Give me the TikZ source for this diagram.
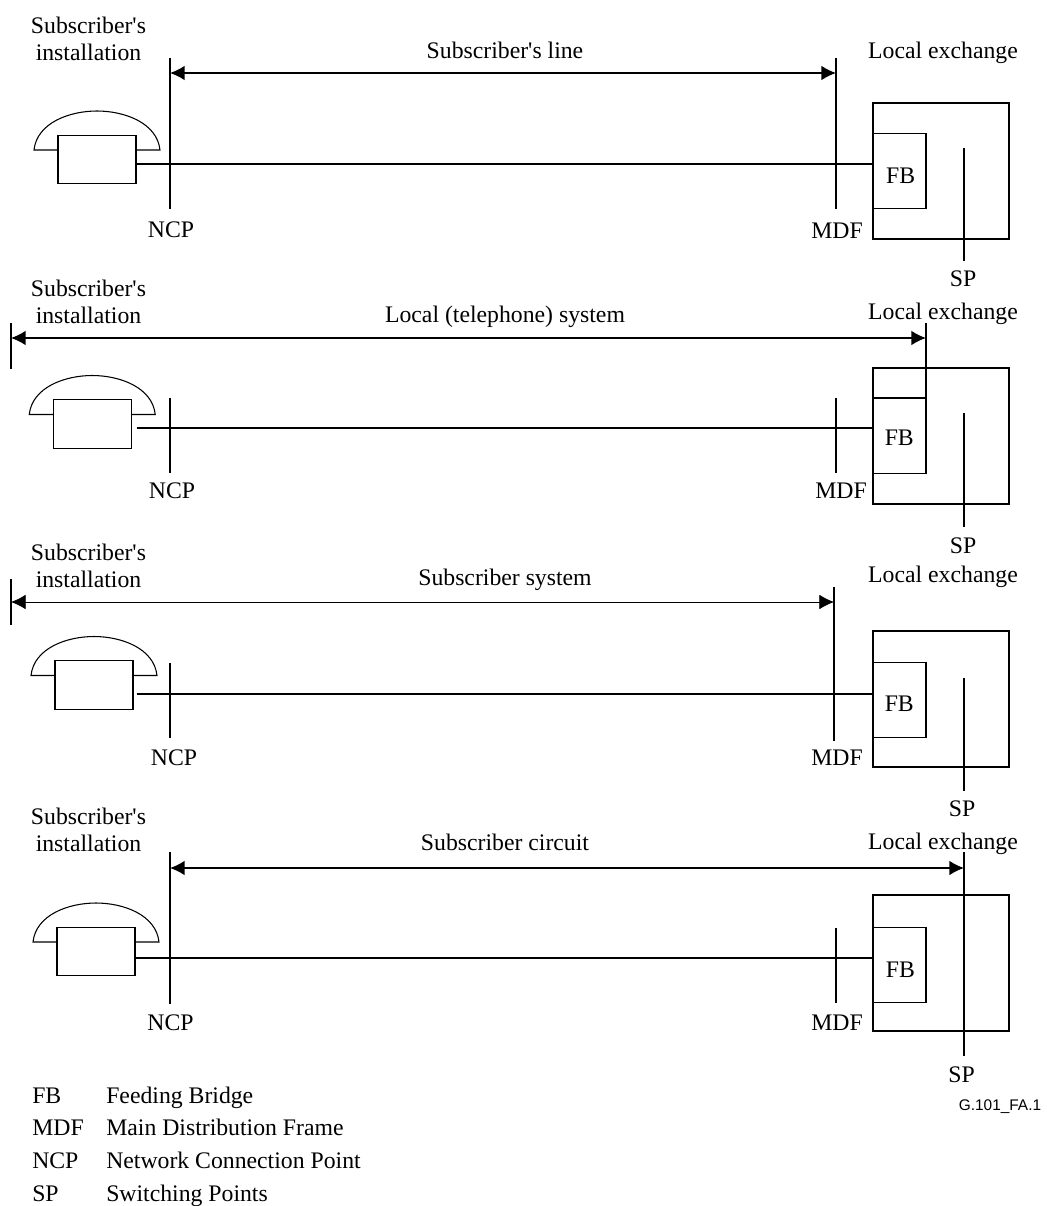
\documentclass[tikz,border=0pt]{standalone}
\usepackage{fontspec}
\setmainfont{Liberation Serif}
\newfontfamily\codefont{Liberation Sans}
\usetikzlibrary{arrows.meta,calc}
\tikzset{
    caption/.style={
        inner sep=0pt,            % no padding, text sits on its coordinate
        align=center,             % two-line captions stay centred
        font=\fontsize{17.8}{20.25}\selectfont
    },
    legend/.style={
        caption,
        anchor=base west          % legend columns line up on the left
    },
    exchangebox/.style={
        rectangle,
        draw=black,
        line width=0.8pt,
        minimum width=102pt,      % outer square of the exchange
        minimum height=102pt,
        inner sep=0pt
    },
    fbbox/.style={
        exchangebox,
        minimum width=39.75pt,    % narrow box stuck to the exchange wall
        minimum height=56.6pt
    },
    phonebody/.style={
        exchangebox,
        minimum width=58.5pt,     % lower part of the telephone
        minimum height=36.4pt
    },
    receiver/.style={
        draw=black,
        line width=0.8pt
    },
    wire/.style={
        draw=black,
        line width=1.1pt          % heavier than the boxes
    },
    span/.style={
        wire,
        {Latex[length=11pt,width=11pt]}-{Latex[length=11pt,width=11pt]}
    }
}
\newcommand{\handset}[1]{%
    \draw[receiver, shift={(#1.center)}] (-39,-9.5) -- (-63,-9.5)
        .. controls (-60,-37) and (-27,-48.5) .. (0,-48.5)
        .. controls (27,-48.5) and (60,-37) .. (63,-9.5) -- (39,-9.5);
}
\newcommand{\subs}{Subscriber\textquotesingle s}
\begin{document}
\begin{tikzpicture}[x=0.75pt,y=-0.75pt]
    \useasboundingbox (0,0) rectangle (1046,1206);
    % first row
    \node[caption] (installa) at (88.5,38.5) {\subs\\installation};
    \node[caption] (titlea) at (505,50) {\subs{} line};
    \node[caption] (locala) at (943,53) {Local exchange};
    \node[phonebody] (phonea) at (97,159.5) {};
    \handset{phonea}
    \node[exchangebox] (exchangea) at (941,171) {};
    \node[fbbox] (fba) at (899.5,171) {};
    \node[caption] (fbtexta) at (900.7,176) {FB};
    \coordinate (wirea) at (136,164);
    \coordinate (ncpat) at (170,58);
    \coordinate (ncpab) at (170,209);
    \coordinate (mdfat) at (836,58);
    \coordinate (mdfab) at (836,209);
    \coordinate (spat) at (964,148);
    \coordinate (spab) at (964,261);
    \coordinate (spanal) at (170,73);
    \coordinate (spanar) at (836,73);
    \draw[wire] (wirea) -- (wirea -| exchangea.west);
    \draw[wire] (ncpat) -- (ncpab);
    \draw[wire] (mdfat) -- (mdfab);
    \draw[wire] (spat) -- (spab);
    \draw[span] (spanal) -- (spanar);
    \node[caption] (ncpa) at (171,230) {NCP};
    \node[caption] (mdfa) at (837,230.5) {MDF};
    \node[caption] (spa) at (963,279) {SP};
    % second row
    \node[caption] (installb) at (88.5,301.5) {\subs\\installation};
    \node[caption] (titleb) at (505,317) {Local (telephone) system};
    \node[caption] (localb) at (943,314) {Local exchange};
    \node[phonebody] (phoneb) at (92.25,424) {};
    \handset{phoneb}
    \node[exchangebox] (exchangeb) at (941,436) {};
    \node[fbbox] (fbb) at (899.5,435.7) {};
    \node[caption] (fbtextb) at (899.3,438) {FB};
    \coordinate (wireb) at (136.5,428);
    \coordinate (ncpbt) at (170,398);
    \coordinate (ncpbb) at (170,473);
    \coordinate (mdfbt) at (836,398);
    \coordinate (mdfbb) at (836,473);
    \coordinate (spbt) at (964,413);
    \coordinate (spbb) at (964,527);
    \coordinate (leftbt) at (11,323);
    \coordinate (leftbb) at (11,368.5);
    \coordinate (rightbt) at (926,323);
    \coordinate (spanbl) at (11,338);
    \coordinate (spanbr) at (926,338);
    \draw[wire] (wireb) -- (wireb -| exchangeb.west);
    \draw[wire] (ncpbt) -- (ncpbb);
    \draw[wire] (mdfbt) -- (mdfbb);
    \draw[wire] (spbt) -- (spbb);
    \draw[wire] (leftbt) -- (leftbb);
    \draw[wire] (rightbt) -- (rightbt |- fbb.north);
    \draw[span] (spanbl) -- (spanbr);
    \node[caption] (ncpb) at (172,491) {NCP};
    \node[caption] (mdfb) at (841,491) {MDF};
    \node[caption] (spb) at (963,546) {SP};
    % third row
    \node[caption] (installc) at (88.5,565.5) {\subs\\installation};
    \node[caption] (titlec) at (505,580) {Subscriber system};
    \node[caption] (localc) at (943,577) {Local exchange};
    \node[phonebody] (phonec) at (94,685) {};
    \handset{phonec}
    \node[exchangebox] (exchangec) at (941,699) {};
    \node[fbbox] (fbc) at (899.5,700.2) {};
    \node[caption] (fbtextc) at (899.3,704) {FB};
    \coordinate (wirec) at (136.5,694);
    \coordinate (ncpct) at (170,663);
    \coordinate (ncpcb) at (170,738);
    \coordinate (mdfct) at (834,587);
    \coordinate (mdfcb) at (834,741);
    \coordinate (spct) at (964,678);
    \coordinate (spcb) at (964,791);
    \coordinate (leftct) at (11,579);
    \coordinate (leftcb) at (11,625);
    \coordinate (spancl) at (11,602);
    \coordinate (spancr) at (834,602);
    \draw[wire] (wirec) -- (wirec -| exchangec.west);
    \draw[wire] (ncpct) -- (ncpcb);
    \draw[wire] (mdfct) -- (mdfcb);
    \draw[wire] (spct) -- (spcb);
    \draw[wire] (leftct) -- (leftcb);
    \draw[span, line width=0.6pt] (spancl) -- (spancr);
    \node[caption] (ncpc) at (174,758) {NCP};
    \node[caption] (mdfc) at (837,758) {MDF};
    \node[caption] (spc) at (962,809) {SP};
    % fourth row
    \node[caption] (installd) at (88.5,830) {\subs\\installation};
    \node[caption] (titled) at (505,842) {Subscriber circuit};
    \node[caption] (locald) at (943,844) {Local exchange};
    \node[phonebody] (phoned) at (96,951.5) {};
    \handset{phoned}
    \node[exchangebox] (exchanged) at (941,963) {};
    \node[fbbox] (fbd) at (899.5,965.2) {};
    \node[caption] (fbtextd) at (900.5,970) {FB};
    \coordinate (wired) at (136,958);
    \coordinate (ncpdt) at (170,852);
    \coordinate (ncpdb) at (170,1003.5);
    \coordinate (mdfdt) at (836,928);
    \coordinate (mdfdb) at (836,1003);
    \coordinate (spdt) at (964,852);
    \coordinate (spdb) at (964,1056);
    \coordinate (spandl) at (170,868);
    \coordinate (spandr) at (964,868);
    \draw[wire] (wired) -- (wired -| exchanged.west);
    \draw[wire] (ncpdt) -- (ncpdb);
    \draw[wire] (mdfdt) -- (mdfdb);
    \draw[wire] (spdt) -- (spdb);
    \draw[span] (spandl) -- (spandr);
    \node[caption] (ncpd) at (170.5,1023) {NCP};
    \node[caption] (mdfd) at (837,1023) {MDF};
    \node[caption] (spd) at (961.5,1075) {SP};
    % figure code and legend
    \node[inner sep=0pt, font=\codefont\fontsize{11.55}{14}\selectfont] (figcode) at (1000,1107) {G.101\_FA.1};
    \node[legend] (keyfb) at (32,1103) {FB};
    \node[legend] (textfb) at (106,1103) {Feeding Bridge};
    \node[legend] (keymdf) at (32,1135.5) {MDF};
    \node[legend] (textmdf) at (106,1135.5) {Main Distribution Frame};
    \node[legend] (keyncp) at (32,1168) {NCP};
    \node[legend] (textncp) at (106,1168) {Network Connection Point};
    \node[legend] (keysp) at (32,1201) {SP};
    \node[legend] (textsp) at (106,1201) {Switching Points};
\end{tikzpicture}
\end{document}
